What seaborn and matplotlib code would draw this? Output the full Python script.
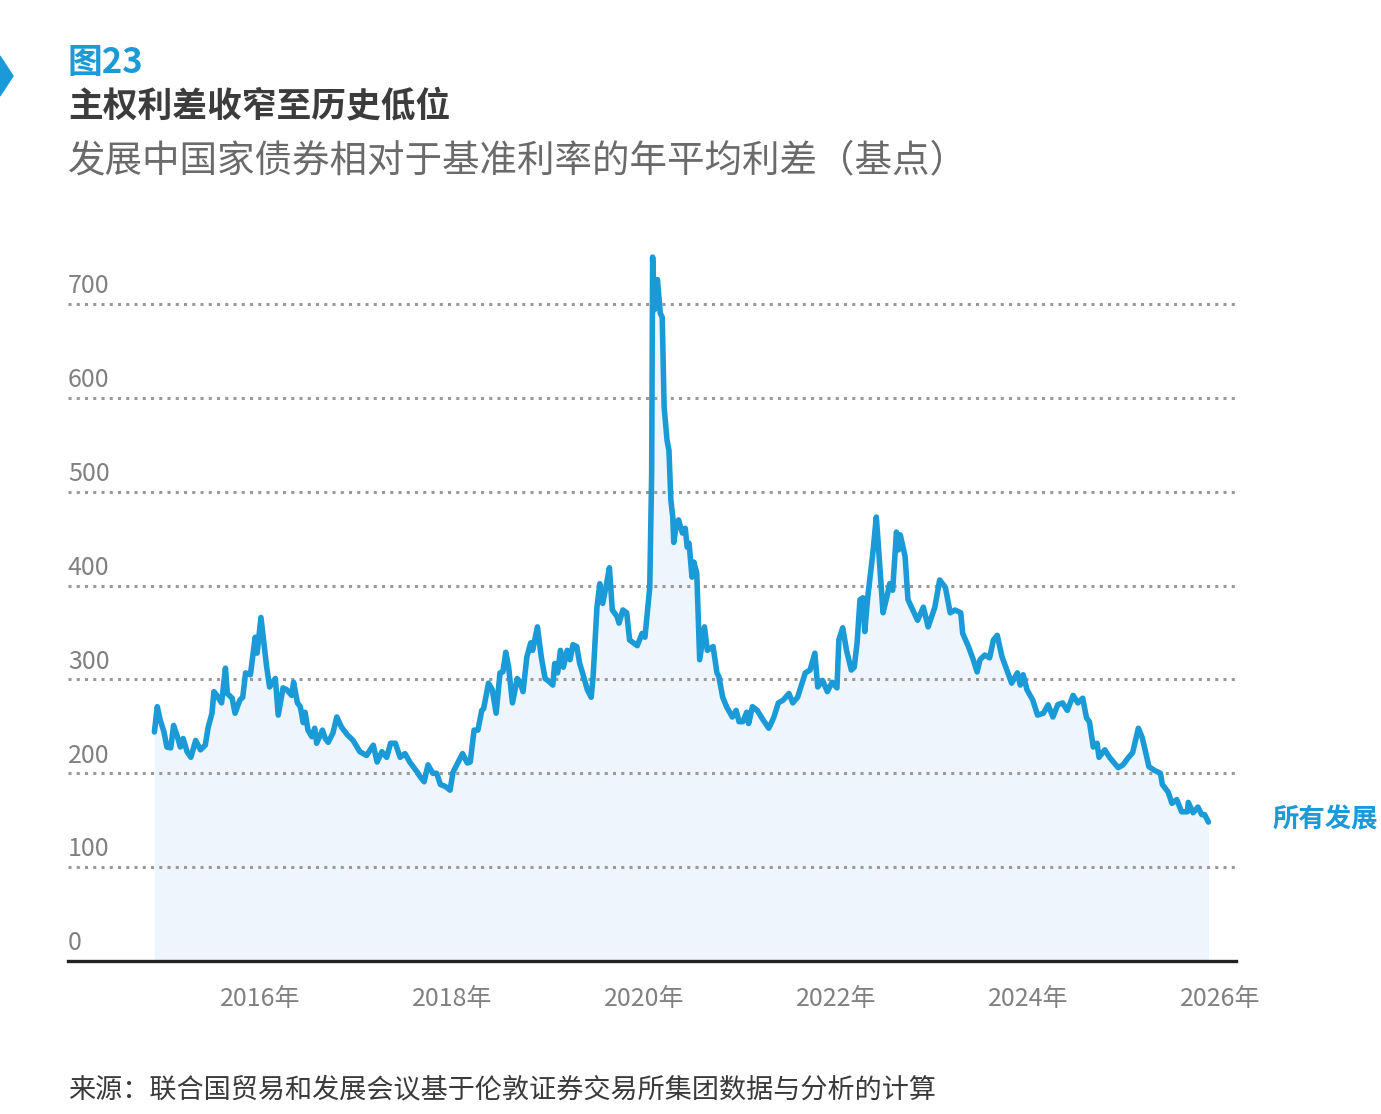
import pandas as pd
import numpy as np
import seaborn as sns
import matplotlib.pyplot as plt
from matplotlib.patches import Polygon
import matplotlib.transforms as mtransforms

# data (decimal year, spread in basis points)
years = [2014.90, 2014.93, 2014.96, 2015.00, 2015.03, 2015.07, 2015.10, 2015.14, 2015.17, 2015.20,
         2015.24, 2015.28, 2015.33, 2015.38, 2015.43, 2015.46, 2015.50, 2015.52, 2015.55, 2015.60,
         2015.64, 2015.66, 2015.71, 2015.74, 2015.79, 2015.82, 2015.85, 2015.90, 2015.95, 2015.97,
         2016.01, 2016.04, 2016.07, 2016.10, 2016.16, 2016.19, 2016.24, 2016.28, 2016.33, 2016.35,
         2016.39, 2016.42, 2016.45, 2016.47, 2016.50, 2016.54, 2016.57, 2016.59, 2016.65, 2016.68,
         2016.71, 2016.76, 2016.80, 2016.85, 2016.91, 2016.97, 2017.04, 2017.11, 2017.18, 2017.22,
         2017.27, 2017.32, 2017.36, 2017.41, 2017.46, 2017.51, 2017.56, 2017.64, 2017.67, 2017.71,
         2017.75, 2017.80, 2017.84, 2017.88, 2017.93, 2017.98, 2018.01, 2018.06, 2018.11, 2018.16,
         2018.19, 2018.23, 2018.27, 2018.31, 2018.33, 2018.38, 2018.42, 2018.46, 2018.50, 2018.53,
         2018.56, 2018.59, 2018.63, 2018.68, 2018.71, 2018.74, 2018.78, 2018.82, 2018.84, 2018.89,
         2018.93, 2018.97, 2019.02, 2019.05, 2019.07, 2019.10, 2019.13, 2019.16, 2019.20, 2019.23,
         2019.26, 2019.30, 2019.33, 2019.36, 2019.41, 2019.45, 2019.47, 2019.51, 2019.54, 2019.57,
         2019.61, 2019.64, 2019.67, 2019.72, 2019.74, 2019.78, 2019.82, 2019.85, 2019.93, 2019.98,
         2020.01, 2020.06, 2020.08, 2020.09, 2020.11, 2020.14, 2020.17, 2020.19, 2020.21, 2020.24,
         2020.26, 2020.28, 2020.30, 2020.31, 2020.34, 2020.36, 2020.40, 2020.43, 2020.45, 2020.47,
         2020.50, 2020.52, 2020.55, 2020.58, 2020.63, 2020.66, 2020.72, 2020.76, 2020.78, 2020.82,
         2020.86, 2020.92, 2020.96, 2020.99, 2021.03, 2021.07, 2021.09, 2021.13, 2021.18, 2021.24,
         2021.30, 2021.35, 2021.40, 2021.45, 2021.51, 2021.55, 2021.60, 2021.68, 2021.73, 2021.78,
         2021.81, 2021.86, 2021.91, 2021.96, 2022.01, 2022.03, 2022.07, 2022.11, 2022.16, 2022.19,
         2022.22, 2022.25, 2022.28, 2022.30, 2022.33, 2022.38, 2022.39, 2022.42, 2022.44, 2022.49,
         2022.53, 2022.56, 2022.59, 2022.63, 2022.65, 2022.67, 2022.72, 2022.75, 2022.80, 2022.85,
         2022.91, 2022.96, 2023.03, 2023.08, 2023.14, 2023.19, 2023.24, 2023.30, 2023.32, 2023.38,
         2023.43, 2023.47, 2023.50, 2023.55, 2023.60, 2023.64, 2023.68, 2023.73, 2023.78, 2023.83,
         2023.89, 2023.92, 2023.95, 2023.99, 2024.05, 2024.10, 2024.16, 2024.21, 2024.26, 2024.31,
         2024.36, 2024.41, 2024.47, 2024.52, 2024.57, 2024.61, 2024.64, 2024.68, 2024.72, 2024.74,
         2024.80, 2024.85, 2024.89, 2024.94, 2024.99, 2025.04, 2025.09, 2025.15, 2025.19, 2025.22,
         2025.26, 2025.32, 2025.38, 2025.40, 2025.46, 2025.50, 2025.55, 2025.60, 2025.66, 2025.67,
         2025.72, 2025.77, 2025.81, 2025.84, 2025.88]
spread = [244, 271, 257, 244, 228, 227, 251, 239, 228, 237,
          223, 217, 235, 225, 230, 249, 264, 287, 283, 275,
          312, 285, 280, 264, 278, 281, 307, 305, 345, 328,
          366, 339, 313, 292, 301, 262, 291, 289, 283, 297,
          275, 271, 254, 265, 246, 239, 248, 232, 246, 237,
          233, 243, 260, 249, 241, 235, 223, 219, 230, 212,
          223, 217, 232, 232, 217, 221, 212, 201, 196, 191,
          209, 200, 200, 188, 186, 182, 201, 211, 221, 211,
          212, 246, 246, 267, 269, 296, 289, 264, 307, 308,
          329, 313, 275, 301, 297, 287, 324, 339, 331, 356,
          324, 301, 297, 294, 317, 307, 331, 313, 331, 321,
          337, 335, 317, 307, 289, 281, 303, 377, 402, 381,
          402, 419, 374, 367, 360, 374, 371, 342, 336, 349,
          345, 398, 520, 750, 694, 726, 690, 686, 590, 555,
          544, 491, 473, 446, 467, 470, 456, 461, 441, 445,
          409, 425, 413, 321, 356, 331, 335, 307, 303, 281,
          271, 260, 267, 255, 255, 265, 253, 271, 267, 257,
          248, 259, 275, 278, 285, 275, 281, 307, 310, 328,
          292, 299, 287, 297, 291, 342, 355, 331, 310, 313,
          339, 385, 387, 351, 387, 431, 441, 473, 445, 371,
          388, 402, 395, 457, 438, 454, 431, 385, 374, 363,
          377, 356, 377, 406, 398, 371, 374, 371, 349, 335,
          321, 308, 321, 326, 323, 342, 347, 324, 310, 296,
          307, 294, 305, 289, 278, 262, 264, 273, 260, 273,
          275, 267, 283, 275, 280, 259, 255, 228, 232, 217,
          225, 217, 212, 206, 209, 216, 222, 248, 238, 225,
          207, 203, 200, 188, 180, 168, 172, 159, 159, 169,
          158, 164, 156, 156, 148]

y_ticks = [0, 100, 200, 300, 400, 500, 600, 700]
x_ticks = [2016, 2018, 2020, 2022, 2024, 2026]
x_labels = [f"{y}年" for y in x_ticks]

df = pd.DataFrame({"year": years, "spread": spread})

blue = "#1a9ad6"
sns.set_theme(style="white")
plt.rcParams['font.family'] = ['Noto Sans CJK SC', 'DejaVu Sans']

W, H = 1381, 1114
fig = plt.figure(figsize=(W / 100, H / 100), dpi=100)
ax = fig.add_axes([68 / W, 1 - 961 / H, (1236 - 68) / W, (961 - 247.7) / H])

ax.fill_between(df["year"], 0, df["spread"], color="#eef5fc", lw=0, zorder=1)
# dotted gridlines drawn over the fill, under the line
for v in y_ticks[1:]:
    ax.axhline(v, color="#9a9a9a", lw=2.2, linestyle=(0, (1, 1.7)), zorder=2)
sns.lineplot(data=df, x="year", y="spread", color=blue, lw=4.0, ax=ax, zorder=3)

ax.set_xlim(2014.0, 2026.167)
ax.set_ylim(0, 760)
ax.set_yticks(y_ticks)
ax.set_yticklabels([])
ax.tick_params(axis="y", length=0)
ax.grid(False)

trans = mtransforms.blended_transform_factory(ax.transAxes, ax.transData)
for v in y_ticks:
    ax.text(0, v + 5, str(v), transform=trans, ha="left", va="bottom",
            fontsize=18, color="#808080", fontweight="light")

ax.set_xticks(x_ticks)
ax.set_xticklabels(x_labels, fontsize=18, color="#808080", fontweight="light")
ax.tick_params(axis="x", length=0, pad=18)
ax.set_xlabel("")
ax.set_ylabel("")

for s in ["top", "right", "left"]:
    ax.spines[s].set_visible(False)
ax.spines["bottom"].set_color("#222222")
ax.spines["bottom"].set_linewidth(2.4)
ax.spines["bottom"].set_zorder(4)

# header
fig.patches.append(Polygon([[0, 1 - 56 / H], [13 / W, 1 - 76 / H], [0, 1 - 96 / H]],
                           closed=True, transform=fig.transFigure, color=blue))
fig.text(68 / W, 1 - 62 / H, "图23", fontsize=25, fontweight="bold", color=blue, va="center")
fig.text(68 / W, 1 - 106 / H, "主权利差收窄至历史低位", fontsize=25, fontweight="bold",
         color="#3c3c3c", va="center")
fig.text(68 / W, 1 - 161 / H, "发展中国家债券相对于基准利率的年平均利差（基点）", fontsize=27,
         color="#6a6a6a", va="center", fontweight="light")

fig.text(1273 / W, 1 - 820 / H, "所有发展", fontsize=19, fontweight="bold",
         color=blue, va="center")

fig.text(68 / W, 1 - 1090 / H, "来源：联合国贸易和发展会议基于伦敦证券交易所集团数据与分析的计算",
         fontsize=19.5, color="#3a3a3a", va="center")

fig.savefig("out.png", dpi=100)
